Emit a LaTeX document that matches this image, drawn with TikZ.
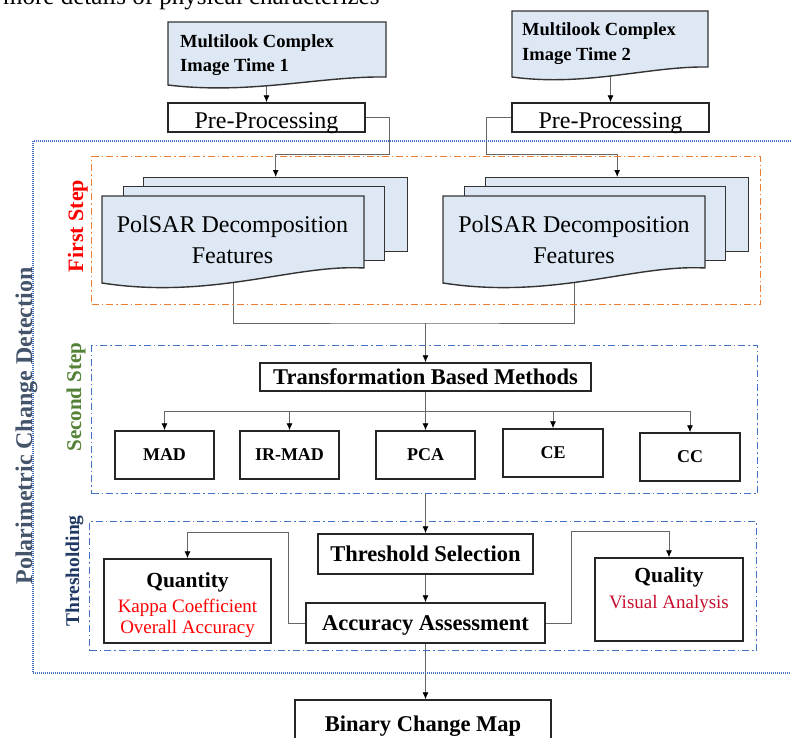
\documentclass[tikz,border=0pt]{standalone}
\usepackage{fontspec}
\setmainfont{Liberation Serif}
\usetikzlibrary{arrows.meta,calc}
\pgfdeclarelayer{bg}
\pgfsetlayers{bg,main}
\definecolor{lblue}{HTML}{DDE8F4}
\definecolor{orng}{HTML}{ED7D31}
\definecolor{bframe}{HTML}{4472C4}
\definecolor{titlegray}{HTML}{44546A}
\definecolor{stepgreen}{HTML}{538135}
\definecolor{navy}{HTML}{1F3864}
\definecolor{dred}{HTML}{C8102E}
\newcommand\myfs[1]{\fontsize{#1}{#1}\selectfont}
\begin{document}
\begin{tikzpicture}[x=1pt,y=-1pt,
  box/.style={draw=black!85,line width=1.5pt,fill=white,inner sep=0pt,text depth=0pt,font=\myfs{22.5}\bfseries},
  ppbox/.style={box,font=\myfs{24},minimum width=197pt,minimum height=29pt,text height=21pt},
  smallbox/.style={box,font=\myfs{18}\bfseries,minimum width=99pt,minimum height=48pt},
  shp/.style={draw=black!80,line width=1.4pt,fill=lblue},
  stk/.style={shp,inner sep=0pt,anchor=north west},
  arr/.style={draw=black!60,line width=0.9pt,-{Latex[length=7pt,width=6pt,color=black]}},
  ln/.style={draw=black!60,line width=0.9pt},
  ddash/.style={line width=1.3pt,dash pattern=on 7pt off 3pt on 1.5pt off 3pt,inner sep=0pt,anchor=north west},
  vlabel/.style={rotate=90,anchor=base,font=\bfseries}
]
\useasboundingbox (0,0) rectangle (791,737);

% cut-off text line at the top
\node[anchor=base west,font=\myfs{25},inner sep=0pt] (toptxt) at (3,4.5) {more details of physical characterizes};

% frames
\draw[bframe,line width=1.2pt,dash pattern=on 1pt off 1pt] (33,141) rectangle (800,673);
\node[ddash,draw=orng,minimum width=669pt,minimum height=148pt] (s1) at (91,156) {};
\node[ddash,draw=bframe,minimum width=666pt,minimum height=148pt] (s2) at (91,345) {};
\node[ddash,draw=bframe,minimum width=667pt,minimum height=129pt] (s3) at (89,521) {};

% frame labels
\node[vlabel,font=\myfs{24}\bfseries,text=titlegray] (lab0) at (32,426) {Polarimetric Change Detection};
\node[vlabel,font=\myfs{22}\bfseries,text=red] (lab1) at (83,226) {First Step};
\node[vlabel,font=\myfs{21}\bfseries,text=stepgreen] (lab2) at (81,397) {Second Step};
\node[vlabel,font=\myfs{19.5}\bfseries,text=navy] (lab3) at (79,571) {Thresholding};

% input documents
\draw[shp] (168,22) -- (386,22) -- (386,77) .. controls (320,76) and (250,95) .. (168,85) -- cycle;
\node[anchor=base west,font=\myfs{18.5}\bfseries,inner sep=0pt] (d1a) at (180,47) {Multilook Complex};
\node[anchor=base west,font=\myfs{18.5}\bfseries,inner sep=0pt] (d1c) at (180,71) {Image Time 1};
\coordinate (d1b) at (266.5,80);

\draw[shp] (512,11) -- (708,11) -- (708,67) .. controls (649,66) and (586,87) .. (512,77) -- cycle;
\node[anchor=base west,font=\myfs{18.5}\bfseries,inner sep=0pt] (d2a) at (522,35) {Multilook Complex};
\node[anchor=base west,font=\myfs{18.5}\bfseries,inner sep=0pt] (d2c) at (522,60) {Image Time 2};
\coordinate (d2b) at (610.5,70);

% pre-processing
\node[ppbox] (pp1) at (266.5,117.5) {Pre-Processing};
\node[ppbox] (pp2) at (610.5,117.5) {Pre-Processing};

% stacked PolSAR feature shapes
\node[stk,minimum width=264pt,minimum height=74pt] (b1) at (143,177) {};
\node[stk,minimum width=261pt,minimum height=74pt] (m1) at (123,186) {};
\draw[shp] (102,196) -- (364,196) -- (364,268) .. controls (294,264) and (212,300) .. (102,283) -- cycle;
\node[anchor=base,font=\myfs{24},inner sep=0pt] (f1a) at (232.5,232) {PolSAR Decomposition};
\node[anchor=base,font=\myfs{24},inner sep=0pt] (f1c) at (232.5,263) {Features};
\coordinate (f1b) at (233,280);

\node[stk,minimum width=263pt,minimum height=74pt] (b2) at (485,177) {};
\node[stk,minimum width=261pt,minimum height=74pt] (m2) at (464,186) {};
\draw[shp] (443,196) -- (705,196) -- (705,268) .. controls (635,264) and (553,300) .. (443,283) -- cycle;
\node[anchor=base,font=\myfs{24},inner sep=0pt] (f2a) at (574,232) {PolSAR Decomposition};
\node[anchor=base,font=\myfs{24},inner sep=0pt] (f2c) at (574,263) {Features};
\coordinate (f2b) at (574,278);

% second step
\node[box,minimum width=331pt,minimum height=28pt] (tbm) at (425.5,377) {Transformation Based Methods};
\node[smallbox] (mad) at (164.5,455) {MAD};
\node[smallbox] (irmad) at (289.5,455) {IR-MAD};
\node[smallbox] (pca) at (425.5,455) {PCA};
\node[smallbox,minimum width=100pt] (ce) at (553,453) {CE};
\node[smallbox,minimum width=100pt] (cc) at (690,457) {CC};

% thresholding
\node[box,minimum width=215pt,minimum height=40pt] (ts) at (425.5,554) {Threshold Selection};
\node[box,minimum width=239pt,minimum height=40pt] (acc) at (425.5,623) {Accuracy Assessment};
\node[box,minimum width=167pt,minimum height=84pt] (qn) at (187.5,601) {};
\node[anchor=base,font=\myfs{21.5}\bfseries,inner sep=0pt] (qn1) at (187.5,587) {Quantity};
\node[anchor=base,font=\myfs{19},text=red,inner sep=0pt] (qn2) at (187.5,612) {Kappa Coefficient};
\node[anchor=base,font=\myfs{19},text=red,inner sep=0pt] (qn3) at (187.5,633) {Overall Accuracy};
\node[box,minimum width=148pt,minimum height=83pt] (ql) at (669,599.5) {};
\node[anchor=base,font=\myfs{21.5}\bfseries,inner sep=0pt] (ql1) at (669,582) {Quality};
\node[anchor=base,font=\myfs{19},text=dred,inner sep=0pt] (ql2) at (669,608) {Visual Analysis};

% output
\node[box,minimum width=256pt,minimum height=48pt] (bin) at (423,724) {Binary Change Map};

% connectors
\begin{pgfonlayer}{bg}
\draw[arr] (d1b) -- (pp1.north);
\draw[arr] (d2b) -- (pp2.north);
\draw[arr] (pp1.east) -- ++(24,0) -- ++(0,37) -| (b1.north);
\draw[arr] (pp2.west) -- ++(-25,0) -- ++(0,37) -| (b2.north);
\coordinate (j) at (425.5,323);
\draw[ln] (f1b) |- (j) -| (f2b);
\draw[arr] (j) -- (tbm.north);
\coordinate (br) at (425.5,411);
\draw[ln] (tbm.south) -- (br);
\foreach \n in {mad,irmad,pca,ce,cc} \draw[arr] (br) -| (\n.north);
\draw[arr] (s2.south -| pca.south) -- (ts.north);
\draw[arr] (ts.south) -- (acc.north);
\draw[arr] (acc.west) -- ++(-17,0) |- ($(qn.north)+(0,-26)$) -- (qn.north);
\draw[arr] (acc.east) -- ++(26,0) |- ($(ql.north)+(0,-26)$) -- (ql.north);
\draw[arr] (acc.south) -- (acc.south |- bin.north);
\end{pgfonlayer}
\end{tikzpicture}
\end{document}
